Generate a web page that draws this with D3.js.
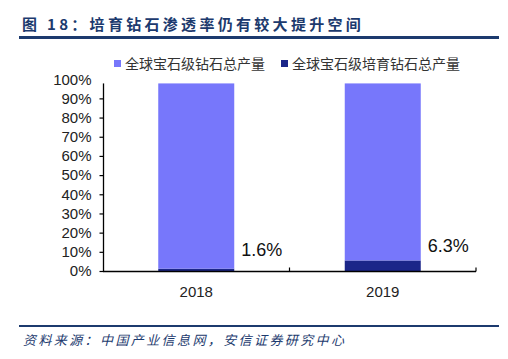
<!DOCTYPE html>
<html><head><meta charset="utf-8">
<script src="https://cdn.jsdelivr.net/npm/d3@7"></script>
<style>
body{margin:0;background:#fff;}
svg{display:block;}
</style></head>
<body>
<svg id="c" width="508" height="359"></svg>
<script>
const categories = ["2018", "2019"];
const seriesNames = ["全球宝石级钻石总产量", "全球宝石级培育钻石总产量"];
const totalValues = [96.6, 92.3];      // light segment (stacked on top)
const labGrownValues = [1.2, 5.5];     // dark segment (bottom)
const pointLabels = ["1.6%", "6.3%"];
const yTicks = [0, 10, 20, 30, 40, 50, 60, 70, 80, 90, 100];
const title = "图 18：培育钻石渗透率仍有较大提升空间";
const source = "资料来源：中国产业信息网，安信证券研究中心";

const svg = d3.select("#c");
const navy = "#1c3a6e";
const light = "#7777fb";
const dark = "#1b2689";

// title
svg.append("text").attr("x", 22).attr("y", 30)
  .attr("font-family", "'Noto Sans CJK SC', sans-serif").attr("font-weight", "bold")
  .attr("font-size", 15).attr("letter-spacing", 3.3).attr("fill", navy).text(title);
svg.append("rect").attr("x", 19).attr("y", 36).attr("width", 480).attr("height", 3).attr("fill", navy);

// footer
svg.append("rect").attr("x", 19).attr("y", 325).attr("width", 480).attr("height", 2).attr("fill", navy);
svg.append("text").attr("x", 23).attr("y", 345)
  .attr("font-family", "'Noto Sans CJK SC', sans-serif").attr("font-style", "italic")
  .attr("font-size", 13).attr("letter-spacing", 2.4).attr("fill", navy).text(source);

// scales
const x = d3.scaleBand().domain(categories).range([103, 476]).paddingInner(0).paddingOuter(0);
const y = d3.scaleLinear().domain([0, 100]).range([271, 79.2]);
const barW = 76;

const data = categories.map((c, i) => ({c, dark: labGrownValues[i], light: totalValues[i], label: pointLabels[i]}));
const stack = d3.stack().keys(["dark", "light"])(data);
const colors = {dark: dark, light: light};

const g = svg.append("g");
stack.forEach(layer => {
  g.selectAll(null).data(layer).enter().append("rect")
    .attr("x", d => x(d.data.c) + x.bandwidth() / 2 - barW / 2)
    .attr("width", barW)
    .attr("y", d => y(d[1]))
    .attr("height", d => y(d[0]) - y(d[1]))
    .attr("fill", colors[layer.key]);
});

// y axis
const yAxis = svg.append("g").attr("transform", "translate(103.5,0)")
  .call(d3.axisLeft(y).tickValues(yTicks).tickSize(4).tickFormat(d => d + "%"));
yAxis.select(".domain").attr("d", `M0,${y(0)}V${y(d3.max(data, d => d.dark + d.light))}`).attr("stroke", "#000").attr("stroke-width", 1.3);
yAxis.selectAll(".tick line").attr("stroke", "#000").attr("stroke-width", 1.2)
  .filter(d => d === 100).remove();
yAxis.selectAll(".tick text").attr("x", -12).attr("font-family", "'Liberation Sans', Arial, sans-serif")
  .attr("font-size", 15).attr("fill", "#222");

// x axis
const xAxis = svg.append("g").attr("transform", `translate(0,${y(0) + 0.5})`);
xAxis.append("line").attr("x1", 103).attr("x2", 476).attr("stroke", "#000").attr("stroke-width", 1.3);
const bounds = categories.map(c => x(c) + x.bandwidth());
xAxis.selectAll(null).data(bounds).enter().append("line")
  .attr("x1", d => d).attr("x2", d => d).attr("y1", 0).attr("y2", -4)
  .attr("stroke", "#000").attr("stroke-width", 1.2);
xAxis.selectAll(null).data(categories).enter().append("text")
  .attr("x", c => x(c) + x.bandwidth() / 2).attr("y", 25)
  .attr("text-anchor", "middle").attr("font-family", "'Liberation Sans', Arial, sans-serif")
  .attr("font-size", 15).attr("fill", "#222").text(c => c);

// value labels
svg.selectAll(null).data(data).enter().append("text")
  .attr("x", d => x(d.c) + x.bandwidth() / 2 + barW / 2 + 7)
  .attr("y", (d, i) => i === 0 ? 256 : 252)
  .attr("font-family", "'Liberation Sans', Arial, sans-serif")
  .attr("font-size", 18).attr("fill", "#111").text(d => d.label);

// legend
const legend = svg.append("g");
const legX = [114, 281];
seriesNames.forEach((n, i) => {
  legend.append("rect").attr("x", legX[i]).attr("y", 60).attr("width", 7).attr("height", 7)
    .attr("fill", i === 0 ? light : dark);
  legend.append("text").attr("x", legX[i] + 11).attr("y", 68.5)
    .attr("font-family", "'Noto Sans CJK SC', sans-serif").attr("font-size", 14)
    .attr("fill", "#333").text(n);
});
</script>
</body></html>
